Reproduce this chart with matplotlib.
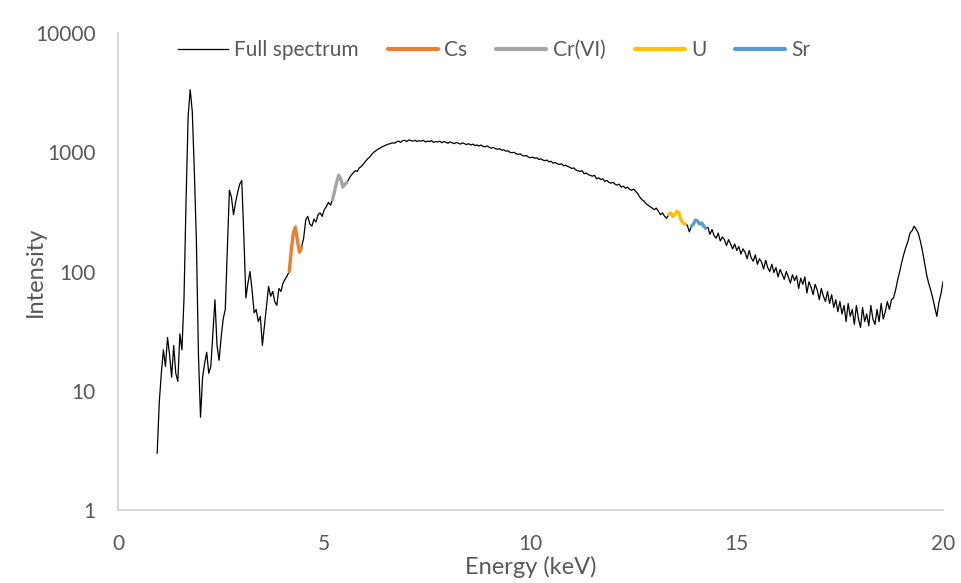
import numpy as np
import matplotlib
matplotlib.use("Agg")
import matplotlib.pyplot as plt

# spectrum channels: first channel energy and channel width (keV)
e_start = 0.95
e_step = 0.05

# intensities, one per channel from 0.95 keV to 20.00 keV
counts = [
    3, 8, 14, 22, 16, 28, 20, 13, 24, 14,            # 0.95 - 1.40
    12, 30, 22, 60, 400, 2000, 3350, 2200, 700, 180,  # 1.45 - 1.90
    20, 6, 13, 17, 21, 14, 16, 30, 58, 24,            # 1.95 - 2.40
    18, 28, 40, 48, 150, 480, 420, 300, 380, 460,     # 2.45 - 2.90
    540, 580, 200, 60, 80, 100, 70, 45, 48, 38,       # 2.95 - 3.40
    42, 24, 35, 51, 75, 62, 68, 56, 52, 72,           # 3.45 - 3.90
    68, 80, 86, 92, 100, 150, 210, 235, 180, 145,     # 3.95 - 4.40
    160, 190, 270, 290, 250, 240, 275, 260, 300, 310, # 4.45 - 4.90
    290, 330, 350, 380, 360, 400, 470, 560, 640, 600, # 4.95 - 5.40
    510, 540, 560, 600, 640, 670, 700, 690, 740, 760, # 5.45 - 5.90
    800, 840, 880, 910, 960, 1000, 1030, 1060, 1080, 1110,  # 5.95 - 6.40
    1130, 1150, 1170, 1180, 1200, 1190, 1220, 1240, 1210, 1250,  # 6.45 - 6.90
    1260, 1230, 1270, 1250, 1240, 1260, 1230, 1250, 1240, 1260,  # 6.95 - 7.40
    1220, 1240, 1230, 1250, 1210, 1230, 1220, 1240, 1200, 1230,  # 7.45 - 7.90
    1210, 1190, 1220, 1200, 1180, 1210, 1190, 1170, 1200, 1180,  # 7.95 - 8.40
    1160, 1180, 1150, 1170, 1140, 1150, 1130, 1150, 1120, 1110,  # 8.45 - 8.90
    1130, 1100, 1080, 1100, 1070, 1060, 1070, 1040, 1050, 1020,  # 8.95 - 9.40
    1030, 1000, 990, 1000, 970, 960, 970, 940, 930, 940,         # 9.45 - 9.90
    910, 900, 910, 890, 900, 870, 880, 860, 850, 860,            # 9.95 - 10.40
    830, 840, 810, 820, 800, 790, 800, 770, 780, 760,            # 10.45 - 10.90
    750, 730, 740, 710, 700, 690, 700, 660, 670, 650,            # 10.95 - 11.40
    640, 630, 640, 600, 610, 590, 600, 570, 580, 560,            # 11.45 - 11.90
    550, 560, 540, 530, 540, 510, 520, 500, 510, 490,            # 11.95 - 12.40
    480, 490, 470, 450, 420, 400, 390, 370, 360, 350,            # 12.45 - 12.90
    340, 330, 340, 320, 300, 310, 290, 280, 300, 310,            # 12.95 - 13.40
    290, 300, 320, 310, 270, 255, 250, 245, 215, 240,            # 13.45 - 13.90
    250, 270, 265, 250, 255, 240, 230, 235, 205, 225,            # 13.95 - 14.40
    200, 190, 210, 180, 195, 185, 165, 185, 170, 155,            # 14.45 - 14.90
    170, 150, 162, 140, 155, 145, 128, 150, 130, 122,            # 14.95 - 15.40
    138, 115, 128, 120, 105, 124, 108, 100, 115, 98,             # 15.45 - 15.90
    108, 90, 104, 95, 86, 100, 90, 80, 94, 84,                   # 15.95 - 16.40
    92, 72, 88, 78, 90, 66, 82, 74, 64, 78,                      # 16.45 - 16.90
    70, 58, 72, 62, 56, 68, 54, 64, 50, 58,                      # 16.95 - 17.40
    46, 56, 44, 52, 38, 54, 42, 48, 36, 52,                      # 17.45 - 17.90
    40, 34, 50, 38, 44, 35, 52, 40, 36, 48,                      # 17.95 - 18.40
    38, 54, 40, 46, 56, 48, 58, 60, 70, 85,                      # 18.45 - 18.90
    100, 120, 140, 160, 180, 210, 220, 240, 225, 210,            # 18.95 - 19.40
    180, 150, 120, 95, 80, 70, 60, 50, 42, 55,                   # 19.45 - 19.90
    65, 82,                                                      # 19.95 - 20.00
]

# element windows highlighted on the spectrum (keV)
elements = ["Cs", "Cr(VI)", "U", "Sr"]
win_lo = [4.14, 5.19, 13.34, 13.89]
win_hi = [4.46, 5.56, 13.76, 14.26]
colors = ["#ED7D31", "#A5A5A5", "#FFC000", "#5B9BD5"]

energy = e_start + e_step * np.arange(len(counts))
counts = np.array(counts, dtype=float)

plt.rcParams["font.family"] = ["Lato", "DejaVu Sans"]
txt = "#595959"

fig = plt.figure(figsize=(9.61, 5.83), dpi=100)
ax = fig.add_axes([0.1228, 0.1252, 0.8585, 0.8182])

ax.plot(energy, counts, color="black", lw=0.9, label="Full spectrum", zorder=2)
for name, lo, hi, c in zip(elements, win_lo, win_hi, colors):
    m = (energy >= lo) & (energy <= hi)
    ax.plot(energy[m], counts[m], color=c, lw=2.4, label=name, zorder=3,
            solid_capstyle="round")

ax.set_yscale("log")
ax.set_ylim(1, 10000)
ax.set_xlim(0, 20)
ax.set_xticks([0, 5, 10, 15, 20])
ax.set_yticks([1, 10, 100, 1000, 10000])
ax.set_yticklabels(["1", "10", "100", "1000", "10000"])
ax.yaxis.set_minor_locator(matplotlib.ticker.NullLocator())
ax.tick_params(axis="both", length=0, labelsize=15, colors=txt)
ax.tick_params(axis="y", pad=16)
ax.tick_params(axis="x", pad=17)

for s in ["top", "right"]:
    ax.spines[s].set_visible(False)
for s in ["left", "bottom"]:
    ax.spines[s].set_color("#D0D0D0")
    ax.spines[s].set_linewidth(1.2)

ax.set_xlabel("Energy (keV)", fontsize=17, color=txt, labelpad=2)
ax.set_ylabel("Intensity", fontsize=17, color=txt, labelpad=-8)

leg = ax.legend(loc="upper center", bbox_to_anchor=(0.456, 1.025), ncol=5,
                frameon=False, fontsize=15, handlelength=2.4,
                columnspacing=1.4, handletextpad=0.3)
for t in leg.get_texts():
    t.set_color(txt)
for h in leg.get_lines()[1:]:
    h.set_linewidth(3)

fig.savefig("out.png", dpi=100)
